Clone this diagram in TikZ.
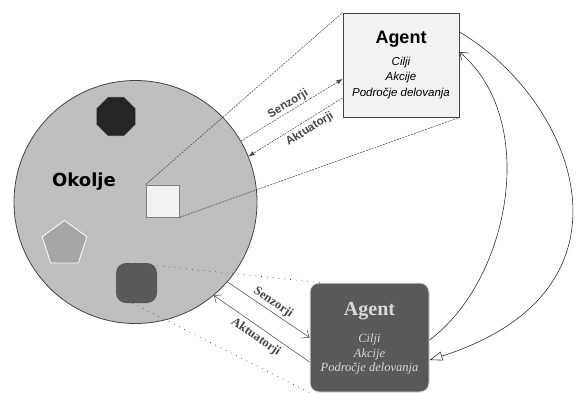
\documentclass[tikz,border=0pt]{standalone}
\usepackage{fontspec}
\newfontfamily\arialfont{Liberation Sans}
\newfontfamily\timesfont{Liberation Serif}
\newfontfamily\roundfont{DejaVu Sans}
\usetikzlibrary{shapes.geometric,arrows.meta}
\definecolor{envgray}{HTML}{BFBFBF}
\definecolor{edgegray}{HTML}{454545}
\definecolor{lightbox}{HTML}{F2F2F2}
\definecolor{darkbox}{HTML}{595959}
\definecolor{octagray}{HTML}{262626}
\definecolor{pentgray}{HTML}{A6A6A6}
\definecolor{paletext}{HTML}{D9D9D9}
\tikzset{
  envcircle/.style={circle, draw=edgegray, fill=envgray, line width=0.8pt, minimum size=243pt, inner sep=0pt},
  agbox/.style={draw=edgegray, fill=lightbox, line width=0.8pt, minimum width=116pt, minimum height=104pt},
  viewline/.style={edgegray, line width=0.5pt, dash pattern=on 2pt off 1pt},
  dotline/.style={edgegray, line width=0.6pt, dash pattern=on 0.8pt off 5pt},
  sensline/.style={edgegray, line width=0.5pt, dash pattern=on 2pt off 1pt},
  thinline/.style={edgegray, line width=0.5pt},
  curveline/.style={black!80, line width=0.6pt},
  toplabel/.style={font=\arialfont\bfseries\fontsize{11.5}{13}\selectfont, inner sep=1.5pt},
  botlabel/.style={font=\timesfont\bfseries\fontsize{12.5}{14}\selectfont, inner sep=1.5pt}
}
\begin{document}
\begin{tikzpicture}[x=1pt,y=-1pt]
    \useasboundingbox (0,0) rectangle (579,392);

    % Draw the environment
    \node[envcircle] (env) at (135.5,202) {};
    \node[font=\roundfont\bfseries\fontsize{18}{20}\selectfont] (envlabel) at (84,182) {Okolje};
    \node[regular polygon, regular polygon sides=8, fill=octagray, draw=gray, minimum size=42pt, inner sep=0pt] (obstacle) at (116,116.5) {};
    \node[regular polygon, regular polygon sides=5, fill=pentgray, draw=white, line width=0.8pt, minimum size=47pt, inner sep=0pt] (object) at (64.5,244) {};
    \node[draw=gray, fill=lightbox, line width=0.8pt, minimum width=33pt, minimum height=32pt] (agA) at (162.5,201) {};
    \node[fill=darkbox, rounded corners=10pt, minimum width=41pt, minimum height=40pt] (agB) at (136.5,283) {};

    % Upper agent
    \node[agbox] (topagent) at (401,65) {};
    \node[font=\arialfont\bfseries\fontsize{18}{20}\selectfont] (toptitle) at (401,39) {Agent};
    \node[align=center, font=\arialfont\itshape\fontsize{11.5}{15.5}\selectfont] (toplist) at (401,78) {Cilji\\Akcije\\Področje delovanja};

    % Lower agent
    \node[draw=paletext, fill=darkbox, line width=1pt, rounded corners=9pt, minimum width=119pt, minimum height=109pt] (botagent) at (369.5,337.5) {};
    \node[text=paletext, font=\timesfont\bfseries\fontsize{20}{22}\selectfont] (bottitle) at (369.5,311) {Agent};
    \node[align=center, text=paletext, font=\timesfont\itshape\fontsize{12.5}{14.5}\selectfont] (botlist) at (369.5,354) {Cilji\\Akcije\\Področje delovanja};

    % Upper connectors
    \draw[viewline] (agA.north west) -- (topagent.north west);
    \draw[viewline] (agA.south east) -- (topagent.south east);
    \draw[sensline, -{Latex[length=6pt,width=4.5pt]}] (env.30) -- ([yshift=-14pt]topagent.west) node[midway, above, sloped, toplabel] {Senzorji};
    \draw[sensline, -{Latex[length=6pt,width=4.5pt]}] ([yshift=-33pt]topagent.west) -- (env.22) node[pos=0.4, below=2pt, sloped, toplabel] {Aktuatorji};

    % Lower connectors
    \draw[dotline] ([xshift=-8pt]agB.north) -- ([xshift=10pt]botagent.north west);
    \draw[dotline] ([xshift=-4pt]agB.south) -- (botagent.south west);
    \draw[thinline, -{Straight Barb[length=6pt,width=10pt]}] (env.-41) -- (botagent.west) node[midway, above=1pt, sloped, botlabel] {Senzorji};
    \draw[thinline, -{Straight Barb[length=6pt,width=10pt]}] ([yshift=-24.5pt]botagent.west) -- (env.-50) node[midway, below=3pt, sloped, botlabel] {Aktuatorji};

    % Links between the agents
    \draw[curveline, -{Straight Barb[length=7pt,width=10pt]}] ([yshift=-2.5pt]botagent.east) .. controls (510,280) and (540,120) .. ([yshift=13pt]topagent.east);
    \draw[curveline, -{Triangle[open,length=13pt,width=9pt,fill=white]}] ([yshift=33pt]topagent.east) .. controls (575,100) and (650,290) .. ([yshift=-22.5pt]botagent.east);
\end{tikzpicture}
\end{document}
